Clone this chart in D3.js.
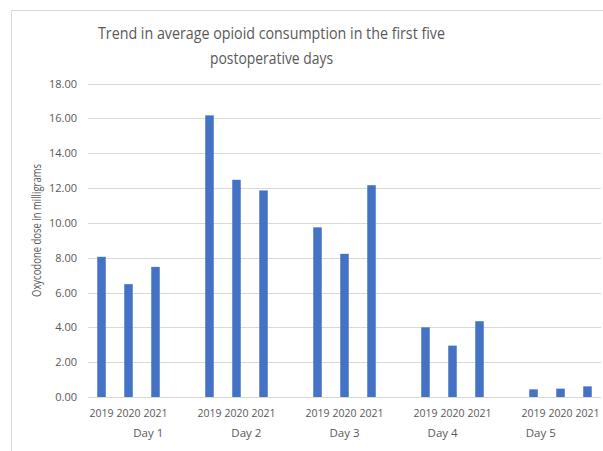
<!DOCTYPE html>
<html>
<head>
<meta charset="utf-8">
<script src="https://cdn.jsdelivr.net/npm/d3@7"></script>
<style>
  html, body { margin: 0; padding: 0; background: #fff; }
  svg { display: block; }
  text { font-family: "Open Sans", Lato, sans-serif; fill: #595959; }
</style>
</head>
<body>
<svg id="chart" width="603" height="451"></svg>
<script>
// ---- data ----
const titleLines = ["Trend in average opioid consumption in the first five", "postoperative days"];
const yAxisLabel = "Oxycodone dose  in milligrams";
const days = ["Day 1", "Day 2", "Day 3", "Day 4", "Day 5"];
const years = ["2019", "2020", "2021"];
const values2019 = [8.05, 16.17, 9.74, 4.00, 0.44];
const values2020 = [6.48, 12.47, 8.22, 2.95, 0.48];
const values2021 = [7.47, 11.86, 12.16, 4.35, 0.61];
const yTicks = [0, 2, 4, 6, 8, 10, 12, 14, 16, 18];

// ---- build rows ----
const seriesByYear = { "2019": values2019, "2020": values2020, "2021": values2021 };
const slots = [];
const rows = [];
days.forEach((d, i) => {
  years.forEach(yr => {
    const key = d + "|" + yr;
    slots.push(key);
    rows.push({ key, day: d, year: yr, value: seriesByYear[yr][i] });
  });
  if (i < days.length - 1) slots.push(d + "|gap");
});

const svg = d3.select("#chart");
const plot = { left: 88, right: 601, top: 83.5, bottom: 397 };

// chart border
svg.append("rect")
  .attr("x", 11.5).attr("y", 10.5)
  .attr("width", 620).attr("height", 460)
  .attr("fill", "none").attr("stroke", "#D9D9D9").attr("stroke-width", 1);

const x = d3.scaleBand().domain(slots)
  .range([plot.left, plot.right])
  .paddingInner(0.685).paddingOuter(0.3425);
const y = d3.scaleLinear().domain([0, 18]).range([plot.bottom, plot.top]);

// gridlines
svg.append("g").selectAll("line").data(yTicks).join("line")
  .attr("x1", plot.left).attr("x2", plot.right)
  .attr("y1", d => Math.round(y(d)) + 0.5).attr("y2", d => Math.round(y(d)) + 0.5)
  .attr("stroke", "#D9D9D9").attr("stroke-width", 1);

// y axis labels
const yAxis = d3.axisLeft(y).tickValues(yTicks).tickFormat(d3.format(".2f")).tickSize(0).tickPadding(11);
const gy = svg.append("g").attr("transform", `translate(${plot.left},0)`).call(yAxis);
gy.select(".domain").remove();
gy.selectAll("text").style("font-size", "11px").attr("fill", "#595959")
  .style("font-family", "'Open Sans', sans-serif");

// bars
svg.append("g").selectAll("rect").data(rows).join("rect")
  .attr("x", d => x(d.key))
  .attr("width", x.bandwidth())
  .attr("y", d => y(d.value))
  .attr("height", d => y(0) - y(d.value))
  .attr("fill", "#4472C4");

// year labels
svg.append("g").selectAll("text").data(rows).join("text")
  .attr("x", d => x(d.key) + x.bandwidth() / 2)
  .attr("y", 417)
  .attr("text-anchor", "middle")
  .style("font-size", "10.5px")
  .text(d => d.year);

// day labels
const dayX = d3.scalePoint().domain(days).range([148.3, 540.7]);
svg.append("g").selectAll("text").data(days).join("text")
  .attr("x", d => dayX(d))
  .attr("y", 437)
  .attr("text-anchor", "middle")
  .style("font-size", "11.5px")
  .text(d => d);

// y axis title
svg.append("text")
  .attr("transform", "translate(41,230.5) rotate(-90)")
  .attr("text-anchor", "middle")
  .attr("textLength", 133)
  .attr("lengthAdjust", "spacingAndGlyphs")
  .style("font-size", "12px")
  .text(yAxisLabel);

// title
const titleWidths = [347, 123];
svg.append("g").selectAll("text").data(titleLines).join("text")
  .attr("x", 271.5)
  .attr("y", (d, i) => 39 + i * 25)
  .attr("text-anchor", "middle")
  .attr("textLength", (d, i) => titleWidths[i])
  .attr("lengthAdjust", "spacingAndGlyphs")
  .style("font-size", "16.5px")
  .text(d => d);
</script>
</body>
</html>
